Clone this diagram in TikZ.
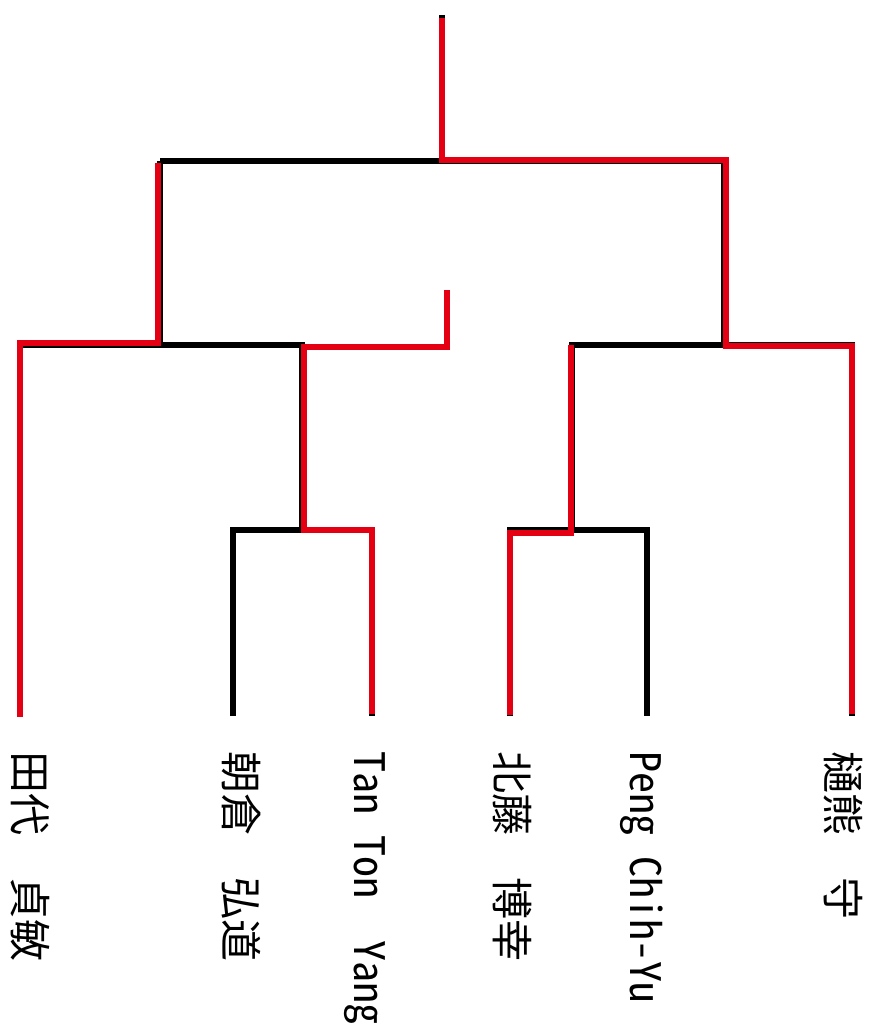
\documentclass[tikz,border=0pt]{standalone}
\usepackage{fontspec}
\setmainfont{Noto Sans CJK JP}[RawFeature={+hwid}]
\usepackage{tikz}
\definecolor{bracketred}{RGB}{228,0,18}
\newcommand{\zsp}{\hspace{1em}}

\begin{document}
\begin{tikzpicture}[x=1pt,y=-1pt,
		blackline/.style={line width=5.5pt,black,line join=miter},
		redline/.style={line width=5.5pt,bracketred,line join=miter},
		namelabel/.style={rotate=-90,anchor=west,inner sep=0pt,text height=37pt,text depth=5pt,font=\fontsize{42}{42}\selectfont}]
					\useasboundingbox (0,0) rectangle (870,1032);
					\coordinate (top) at (442,15); \coordinate (root) at (442,161);
					\coordinate (L) at (160,161); \coordinate (R) at (724,161);
					\coordinate (Lj) at (160,345); \coordinate (Rj) at (724,345);
					\coordinate (Bj) at (302,345); \coordinate (Bd) at (302,530);
					\coordinate (Cj) at (572,345); \coordinate (Cd) at (572,530);
					\coordinate (tashiro) at (20,716); \coordinate (asakura) at (233,716);
					\coordinate (tan) at (372,716); \coordinate (kitafuji) at (510,716);
					\coordinate (peng) at (647,716); \coordinate (higuma) at (852,716);
					% black bracket
					\draw[blackline] (top) -- (root) (L) -- (R) (L) -- (Lj) (R) -- (Rj);
					\draw[blackline] (tashiro) |- (Bj) -- (Bd) (asakura) |- (Bd) -| (tan);
					\draw[blackline] (higuma) |- (Cj) -- (Cd) (kitafuji) |- (Cd) -| (peng);
					% red winners
					\draw[redline] ([yshift=-3pt]top) -- ([yshift=1pt]root) -| ([xshift=2pt,yshift=-1pt]Rj) -| ([yshift=2pt]higuma);
					\draw[redline] ([xshift=-2pt,yshift=-2pt]L) -- ([xshift=-2pt,yshift=2pt]Lj) -| ([yshift=-1pt]tashiro);
					\draw[redline] (447,290) |- ([xshift=2pt,yshift=-2pt]Bj) -- ([xshift=2pt]Bd) -| ([yshift=2pt]tan);
					\draw[redline] ([xshift=-1pt]Cj) -- ([xshift=-1pt,yshift=-3pt]Cd) -| ([yshift=1pt]kitafuji);
					% names
					\node[namelabel] (tashirolbl) at ([xshift=10pt,yshift=-35pt]tashiro) {田代\zsp 貞敏};
					\node[namelabel] (asakuralbl) at ([xshift=8pt,yshift=-35pt]asakura) {朝倉\zsp 弘道};
					\node[namelabel] (tanlbl) at ([xshift=-2pt,yshift=-35pt]tan) {Tan Ton\ \ Yang};
					\node[namelabel] (kitafujilbl) at ([xshift=2pt,yshift=-35pt]kitafuji) {北藤\zsp 博幸};
					\node[namelabel] (penglbl) at ([xshift=-1pt,yshift=-35pt]peng) {Peng Chih-Yu};
					\node[namelabel] (higumalbl) at ([xshift=-9pt,yshift=-35pt]higuma) {樋熊\zsp 守};
				\end{tikzpicture}
\end{document}
